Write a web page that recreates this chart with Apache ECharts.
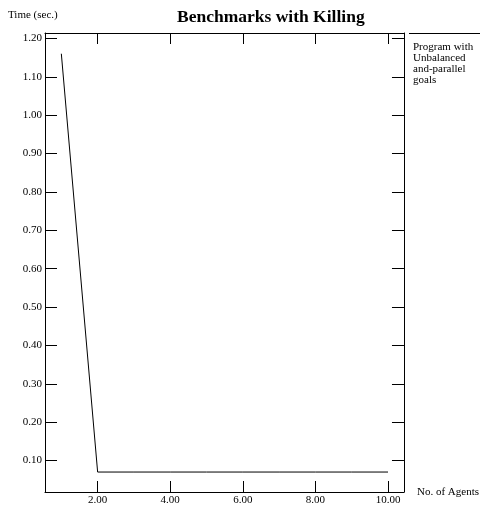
<!DOCTYPE html>
<html>
<head>
<meta charset="utf-8">
<script src="https://cdn.jsdelivr.net/npm/echarts@6/dist/echarts.min.js"></script>
<style>html,body{margin:0;padding:0;background:#fff}#c{width:482px;height:506px}</style>
</head>
<body>
<div id="c"></div>
<script>
var agents = [1, 2, 3, 4, 5, 6, 7, 8, 9, 10];
var times = [1.16, 0.07, 0.07, 0.07, 0.07, 0.07, 0.07, 0.07, 0.07, 0.07];
var xTicks = [2, 4, 6, 8, 10];
var yTicks = [0.1, 0.2, 0.3, 0.4, 0.5, 0.6, 0.7, 0.8, 0.9, 1.0, 1.1, 1.2];
var seriesName = 'Program with\nUnbalanced\nand-parallel\ngoals';

var FONT = '"Liberation Serif", "Times New Roman", serif';
var chart = echarts.init(document.getElementById('c'), null, {renderer: 'canvas'});
var fmt = function (v) { return Number(v).toFixed(2); };

function xAxisDef(pos, labels) {
  return {
    type: 'value', position: pos, min: 0.55, max: 10.44,
    axisLine: {show: true, onZero: false, lineStyle: {color: '#000', width: 1}},
    axisTick: {show: true, inside: true, length: 11, customValues: xTicks, lineStyle: {color: '#000'}},
    axisLabel: {show: labels, customValues: xTicks, formatter: fmt, margin: 3,
      color: '#000', fontFamily: FONT, fontSize: 11},
    splitLine: {show: false},
    name: labels ? 'No. of Agents' : '', nameLocation: 'end', nameGap: 13,
    nameTextStyle: {color: '#000', fontFamily: FONT, fontSize: 11, verticalAlign: 'middle', padding: [0, 0, 4, 0]}
  };
}
function yAxisDef(pos, labels) {
  return {
    type: 'value', position: pos, min: 0.018, max: 1.214,
    axisLine: {show: true, onZero: false, lineStyle: {color: '#000', width: 1}},
    axisTick: {show: true, inside: true, length: 12, customValues: yTicks, lineStyle: {color: '#000'}},
    axisLabel: {show: labels, customValues: yTicks, formatter: fmt, margin: 3,
      color: '#000', fontFamily: FONT, fontSize: 11},
    splitLine: {show: false}
  };
}

chart.setOption({
  backgroundColor: '#fff',
  animation: false,
  title: {
    text: 'Benchmarks with Killing', left: 172, top: 3,
    textStyle: {fontFamily: FONT, fontWeight: 'bold', fontSize: 17.5, color: '#000'}
  },
  legend: {
    orient: 'vertical', left: 408, top: 42, icon: 'none', itemWidth: 0, itemHeight: 0,
    padding: 0, selectedMode: false,
    data: [seriesName],
    textStyle: {fontFamily: FONT, fontSize: 11, color: '#000', lineHeight: 11, padding: 0}
  },
  grid: {left: 45, right: 78, top: 33, bottom: 14, containLabel: false},
  xAxis: [xAxisDef('bottom', true), xAxisDef('top', false)],
  yAxis: [yAxisDef('left', true), yAxisDef('right', false)],
  graphic: [
    {type: 'text', left: 8, top: 10, style: {text: 'Time (sec.)', font: '11px ' + FONT, fill: '#000'}},
    {type: 'line', shape: {x1: 409, y1: 33.5, x2: 480, y2: 33.5}, style: {stroke: '#000', lineWidth: 1}}
  ],
  series: [{
    name: seriesName, type: 'line', showSymbol: false, symbol: 'none',
    data: agents.map(function (a, i) { return [a, times[i]]; }),
    lineStyle: {color: '#000', width: 1}, itemStyle: {color: '#000'}
  }]
});
</script>
</body>
</html>
